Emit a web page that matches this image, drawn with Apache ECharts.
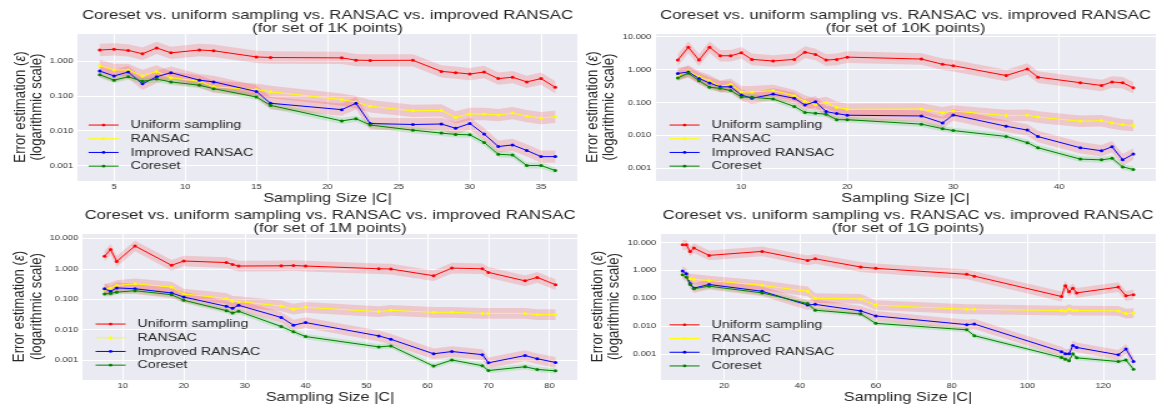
<!DOCTYPE html>
<html>
<head>
<meta charset="utf-8">
<script src="https://cdn.jsdelivr.net/npm/echarts@6.0.0/dist/echarts.min.js"></script>
<style>
  html, body { margin: 0; padding: 0; background: #fff; overflow: hidden; }
  /* the reference figure is stretched horizontally, so the chart is drawn narrower and scaled */
  #chart { width: 926px; height: 406px; transform: scaleX(1.2495); transform-origin: 0 0; }
</style>
</head>
<body>
<div id="chart"></div>
<script>
// ---- data ----
const names = ["Uniform sampling", "RANSAC", "Improved RANSAC", "Coreset"]

// 1K points
const sizes1K = [4, 5, 6, 7, 8, 9, 11, 12, 15, 16, 21, 22, 23, 26, 28, 29, 30, 31, 32, 33, 34, 35, 36]
const uniform1K = [2.05, 2.15, 2.0, 1.6, 2.35, 1.7, 2.05, 1.95, 1.3, 1.25, 1.22, 1.05, 1.03, 1.04, 0.5, 0.46, 0.42, 0.48, 0.31, 0.34, 0.25, 0.31, 0.175]
const ransac1K = [0.72, 0.55, 0.55, 0.37, 0.5, 0.33, 0.26, 0.18, 0.15, 0.13, 0.078, 0.066, 0.05, 0.037, 0.038, 0.024, 0.03, 0.03, 0.028, 0.032, 0.026, 0.023, 0.025]
const improved1K = [0.51, 0.37, 0.48, 0.22, 0.35, 0.46, 0.28, 0.25, 0.133, 0.061, 0.04, 0.061, 0.016, 0.015, 0.0155, 0.0117, 0.016, 0.008, 0.0035, 0.0039, 0.0027, 0.0018, 0.0018]
const coreset1K = [0.4, 0.28, 0.35, 0.26, 0.3, 0.25, 0.2, 0.16, 0.092, 0.053, 0.019, 0.022, 0.0145, 0.0103, 0.0085, 0.0078, 0.0076, 0.0046, 0.0021, 0.002, 0.001, 0.001, 0.00072]

// 10K points
const sizes10K = [4, 5, 6, 7, 8, 9, 10, 11, 13, 15, 16, 17, 18, 19, 20, 27, 29, 30, 35, 37, 38, 42, 44, 45, 46, 47]
const uniform10K = [1.95, 4.8, 1.95, 4.8, 2.64, 2.64, 3.25, 2.05, 1.83, 2.05, 3.4, 2.9, 1.95, 2.05, 2.4, 2.1, 1.45, 1.32, 0.66, 1.05, 0.59, 0.4, 0.33, 0.42, 0.4, 0.28]
const ransac10K = [0.67, 0.91, 0.6, 0.46, 0.31, 0.36, 0.21, 0.21, 0.23, 0.16, 0.11, 0.086, 0.1, 0.071, 0.062, 0.063, 0.049, 0.055, 0.04, 0.041, 0.036, 0.027, 0.028, 0.024, 0.021, 0.02]
const improved10K = [0.76, 0.85, 0.54, 0.39, 0.3, 0.3, 0.17, 0.134, 0.18, 0.134, 0.084, 0.106, 0.053, 0.046, 0.041, 0.039, 0.024, 0.042, 0.019, 0.0145, 0.0092, 0.0042, 0.0034, 0.0045, 0.0018, 0.0027]
const coreset10K = [0.56, 0.78, 0.46, 0.29, 0.27, 0.23, 0.147, 0.145, 0.128, 0.076, 0.05, 0.047, 0.044, 0.03, 0.03, 0.022, 0.016, 0.014, 0.0093, 0.006, 0.0042, 0.0019, 0.0018, 0.002, 0.0011, 0.00092]

// 1M points
const sizes1M = [7, 8, 9, 12, 18, 20, 27, 28, 29, 36, 38, 40, 52, 54, 61, 64, 69, 70, 76, 78, 81]
const uniform1M = [2.6, 4.3, 1.75, 5.6, 1.3, 1.8, 1.6, 1.39, 1.23, 1.25, 1.28, 1.23, 1.0, 0.98, 0.59, 1.05, 1.0, 0.76, 0.4, 0.52, 0.3]
const ransac1M = [0.21, 0.235, 0.28, 0.32, 0.25, 0.148, 0.106, 0.085, 0.083, 0.06, 0.047, 0.054, 0.039, 0.043, 0.037, 0.037, 0.034, 0.034, 0.034, 0.031, 0.031]
const improved1M = [0.22, 0.18, 0.235, 0.22, 0.16, 0.118, 0.058, 0.05, 0.063, 0.025, 0.014, 0.017, 0.0062, 0.0048, 0.0016, 0.0019, 0.0015, 0.00081, 0.0014, 0.0011, 0.00083]
const coreset1M = [0.148, 0.155, 0.17, 0.19, 0.14, 0.092, 0.042, 0.035, 0.04, 0.0126, 0.0085, 0.0059, 0.0027, 0.0029, 0.00063, 0.001, 0.00065, 0.00045, 0.0006, 0.00049, 0.00044]

// 1G points
const sizes1G = [9, 10, 11, 12, 16, 30, 42, 44, 56, 60, 84, 86, 109, 110, 111, 112, 113, 124, 126, 128]
const uniform1G = [8.3, 8.3, 4.8, 6.3, 3.45, 4.8, 2.28, 2.6, 1.32, 1.18, 0.72, 0.62, 0.115, 0.28, 0.17, 0.23, 0.155, 0.25, 0.122, 0.134]
const ransac1G = [0.72, 0.6, 0.5, 0.48, 0.43, 0.29, 0.177, 0.1, 0.094, 0.056, 0.04, 0.04, 0.036, 0.035, 0.04, 0.036, 0.036, 0.035, 0.028, 0.029]
const improved1G = [0.95, 0.76, 0.33, 0.23, 0.31, 0.177, 0.057, 0.06, 0.035, 0.023, 0.0112, 0.0118, 0.0012, 0.001, 0.001, 0.002, 0.0017, 0.00092, 0.0015, 0.00053]
const coreset1G = [0.7, 0.58, 0.31, 0.22, 0.27, 0.155, 0.064, 0.037, 0.027, 0.0125, 0.0073, 0.0045, 0.00074, 0.00064, 0.00057, 0.001, 0.00072, 0.00053, 0.0006, 0.00028]

// ---- styles ----
const lineColors = ["#ff0000", "#ffff00", "#0000ff", "#008000"]
const bandColors = ["rgba(255,0,0,0.15)", "rgba(255,0,0,0.15)", "rgba(255,0,0,0.15)", "rgba(0,200,0,0.16)"]
const bandSpread = [1.5, 1.5, 1.5, 1.22] // multiplicative half-width of the shaded band
const font = "'Liberation Sans', Arial, sans-serif"
const textColor = "#262626"

const panels = [
  {
    label: "1K", sizes: sizes1K, values: [uniform1K, ransac1K, improved1K, coreset1K],
    grid: { left: 61.6, right: 463.4, top: 33, bottom: 225 },
    xRange: [2.4, 37.6], xStep: 5, yRange: [0.00036, 6.3],
    titleX: 262.1, titleY: 8.5, legend: { left: 70.4, top: 118.2 }, nameGap: 25
  },
  {
    label: "10K", sizes: sizes10K, values: [uniform10K, ransac10K, improved10K, coreset10K],
    grid: { left: 524.2, right: 0.8, top: 33, bottom: 225 },
    xRange: [1.85, 49.15], xStep: 10, yRange: [0.00041, 13],
    titleX: 724.7, titleY: 8.5, legend: { left: 535.4, top: 118.2 }, nameGap: 26
  },
  {
    label: "1M", sizes: sizes1M, values: [uniform1M, ransac1M, improved1M, coreset1M],
    grid: { left: 65.6, right: 463.4, top: 233, bottom: 26 },
    xRange: [3.3, 84.7], xStep: 10, yRange: [0.00022, 15],
    titleX: 264.1, titleY: 208.5, legend: { left: 76, top: 317.2 }, nameGap: 28
  },
  {
    label: "1G", sizes: sizes1G, values: [uniform1G, ransac1G, improved1G, coreset1G],
    grid: { left: 528.2, right: 0.8, top: 233, bottom: 26 },
    xRange: [3.05, 133.95], xStep: 20, yRange: [0.000115, 22],
    titleX: 726.7, titleY: 208.5, legend: { left: 535.4, top: 318 }, nameGap: 27
  }
]

// 日志轴只显示整十的幂
const logLabel = (v) => {
  const l = Math.log10(v)
  return Math.abs(l - Math.round(l)) < 1e-6 ? v.toFixed(3) : ""
}

const bandSeries = (xs, ys, k, color, idx) => {
  const data = xs.map((x, i) => [x, ys[i] / k, ys[i] * k])
  return {
    type: "custom",
    name: "band",
    xAxisIndex: idx,
    yAxisIndex: idx,
    silent: true,
    z: 1,
    data: data,
    encode: { x: 0, y: [1, 2] },
    renderItem: (params, api) => {
      if (params.dataIndex !== 0) return null
      const upper = data.map((d) => api.coord([d[0], d[2]]))
      const lower = data.map((d) => api.coord([d[0], d[1]])).reverse()
      return {
        type: "polygon",
        silent: true,
        shape: { points: upper.concat(lower) },
        style: { fill: color }
      }
    }
  }
}

const option = {
  animation: false,
  backgroundColor: "#ffffff",
  textStyle: { fontFamily: font },
  title: [],
  legend: [],
  grid: [],
  xAxis: [],
  yAxis: [],
  series: []
}

panels.forEach((p, idx) => {
  option.title.push({
    text: "Coreset vs. uniform sampling vs. RANSAC vs. improved RANSAC\n(for set of " + p.label + " points)",
    left: p.titleX,
    top: p.titleY,
    textAlign: "center",
    padding: 0,
    textStyle: { fontFamily: font, fontSize: 13.4, lineHeight: 13, fontWeight: "normal", color: textColor }
  })
  option.legend.push({
    data: names,
    orient: "vertical",
    left: p.legend.left,
    top: p.legend.top,
    padding: 0,
    itemGap: 0,
    itemWidth: 24,
    itemHeight: 3.5,
    selectedMode: false,
    lineStyle: { width: 1 },
    itemStyle: { borderWidth: 0 },
    textStyle: { fontFamily: font, fontSize: 11.4, lineHeight: 13.7, color: textColor, padding: [0, 0, 0, 4.6] }
  })
  option.grid.push(Object.assign({
    show: true,
    backgroundColor: "#EAEAF2",
    borderWidth: 0,
    containLabel: false,
    outerBoundsMode: "none"
  }, p.grid))
  option.xAxis.push({
    type: "value",
    gridIndex: idx,
    min: p.xRange[0],
    max: p.xRange[1],
    minInterval: p.xStep,
    maxInterval: p.xStep,
    name: "Sampling Size |C|",
    nameLocation: "middle",
    nameGap: 7,
    nameTextStyle: { fontFamily: font, fontSize: 13, lineHeight: 14, color: textColor },
    axisLine: { show: false },
    axisTick: { show: false },
    axisLabel: {
      fontFamily: font, fontSize: 7.5, color: "#333", margin: 2,
      formatter: (v) => (Math.abs(v / p.xStep - Math.round(v / p.xStep)) < 1e-9 ? String(v) : "")
    },
    splitLine: { show: true, lineStyle: { color: "#ffffff", width: 1 } }
  })
  option.yAxis.push({
    type: "log",
    logBase: 10,
    gridIndex: idx,
    min: p.yRange[0],
    max: p.yRange[1],
    name: "{t|Error estimation (}{i|ε}{t|)}\n{t|(logarithmic scale)}",
    nameLocation: "middle",
    nameRotate: 90,
    nameGap: p.nameGap,
    nameTextStyle: {
      color: textColor,
      rich: {
        t: { fontFamily: font, fontSize: 13.2, lineHeight: 13.5, color: textColor },
        i: { fontFamily: font, fontSize: 13.2, lineHeight: 13.5, fontStyle: "italic", color: textColor }
      }
    },
    axisLine: { show: false },
    axisTick: { show: false },
    minorTick: { show: false },
    axisLabel: { fontFamily: font, fontSize: 7.5, color: "#333", margin: 3, formatter: logLabel },
    splitLine: { show: true, lineStyle: { color: "#ffffff", width: 1 } }
  })
  // 先画阴影带，再画折线
  p.values.forEach((ys, s) => {
    option.series.push(bandSeries(p.sizes, ys, bandSpread[s], bandColors[s], idx))
  })
  p.values.forEach((ys, s) => {
    option.series.push({
      type: "line",
      name: names[s],
      xAxisIndex: idx,
      yAxisIndex: idx,
      z: 3,
      data: p.sizes.map((x, i) => [x, ys[i]]),
      symbol: "circle",
      symbolSize: 3,
      showSymbol: true,
      color: lineColors[s],
      itemStyle: { color: lineColors[s] },
      lineStyle: { color: lineColors[s], width: 1 },
      emphasis: { disabled: true }
    })
  })
})

const chart = echarts.init(document.getElementById("chart"), null, { renderer: "canvas" })
chart.setOption(option)
</script>
</body>
</html>
